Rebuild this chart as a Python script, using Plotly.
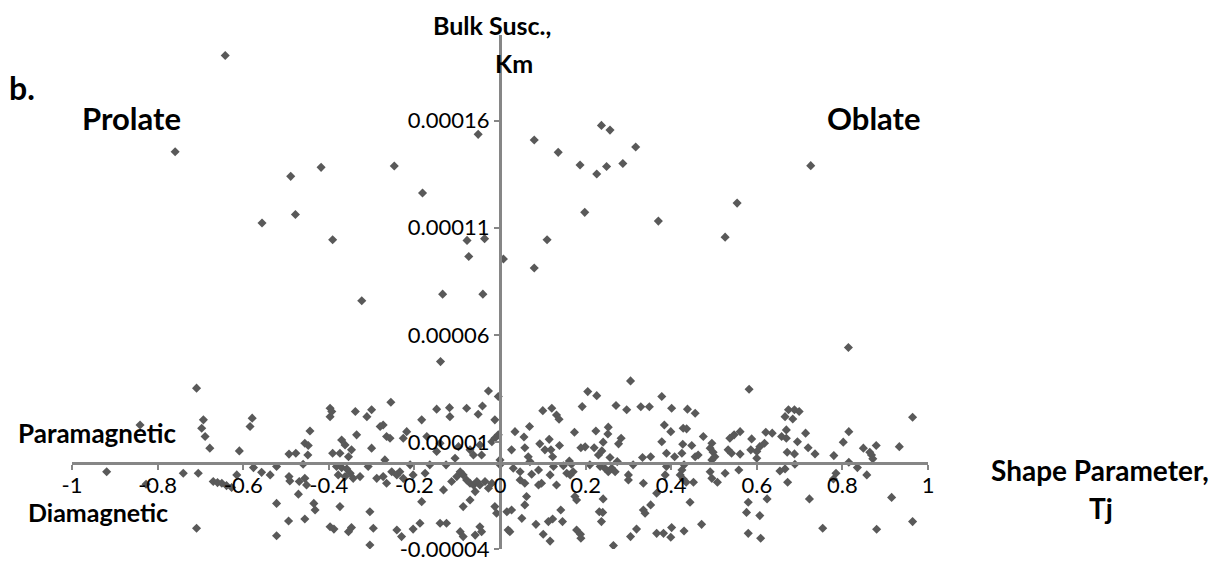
import plotly.graph_objects as go

# Shape parameter Tj (x) and bulk susceptibility Km (y)
tj = [
    -0.642, -0.759, -0.489, -0.418, -0.247, -0.181, -0.051, -0.556, -0.478, -0.391,
    -0.077, -0.036, -0.073, 0.008, 0.080, 0.136, 0.237, 0.257, 0.187, 0.226,
    0.249, 0.198, 0.110, 0.080, -0.134, -0.040, 0.317, 0.287, 0.370, 0.554,
    0.526, 0.726, -0.323, -0.139, 0.814,
    # band, left
    -0.709, -0.841, -0.693, -0.697, -0.689, -0.678, -0.919, -0.827, -0.740, -0.705, -0.709,
    -0.579, -0.584, -0.609, -0.670, -0.650, -0.639, -0.627, -0.615, -0.576, -0.557,
    -0.537, -0.522, -0.522, -0.522, -0.493, -0.477, -0.493, -0.491, -0.494, -0.471,
    -0.469, -0.460, -0.456, -0.448, -0.444, -0.449, -0.456, -0.452, -0.435, -0.432,
    -0.456, -0.397, -0.397, -0.393, -0.338, -0.391, -0.370, -0.362, -0.374, -0.354,
    -0.347, -0.335, -0.382, -0.370, -0.358, -0.378, -0.362, -0.350, -0.343, -0.374,
    -0.397, -0.388, -0.354, -0.347, -0.660,
    # band, centre-left
    -0.027, -0.004, -0.255, -0.300, -0.311, -0.148, -0.118, -0.078, -0.041, -0.117,
    -0.051, -0.012, -0.183, -0.273, -0.280, -0.265, -0.257, -0.226, -0.171, -0.300,
    -0.218, -0.140, -0.148, -0.097, -0.070, -0.047, -0.043, -0.062, -0.019, -0.012,
    -0.004, 0.000, 0.000, -0.269, -0.210, -0.164, -0.126, -0.105, -0.327, -0.288,
    -0.273, -0.265, -0.253, -0.241, -0.234, -0.226, -0.203, -0.175, -0.132, -0.113,
    -0.101, -0.093, -0.086, -0.078, -0.070, -0.062, -0.054, -0.047, -0.035, -0.027,
    -0.019, -0.058, -0.070, -0.086, -0.183, -0.304, -0.296, -0.304, -0.241, -0.230,
    -0.203, -0.187, -0.140, -0.125, -0.093, -0.086, -0.047, -0.043, -0.012, -0.008,
    0.016, 0.019, -0.058, -0.308,
    # band, centre-right
    0.305, 0.205, 0.226, 0.192, 0.100, 0.121, 0.132, 0.138, 0.271, 0.296,
    0.329, 0.349, 0.035, 0.069, 0.056, 0.115, 0.174, 0.224, 0.253, 0.252,
    0.283, 0.277, 0.241, 0.093, 0.139, 0.189, 0.199, 0.220, 0.027, 0.058,
    0.105, 0.119, 0.066, 0.070, 0.123, 0.230, 0.238, 0.257, 0.274, 0.333,
    0.352, 0.162, 0.031, 0.047, 0.074, 0.090, 0.125, 0.148, 0.167, 0.156,
    0.164, 0.171, 0.117, 0.210, 0.234, 0.245, 0.253, 0.261, 0.269, 0.311,
    0.300, 0.300, 0.335, 0.366, 0.047, 0.058, 0.090, 0.097, 0.132, 0.175,
    0.179, 0.241, 0.062, 0.058, 0.142, 0.051, 0.084, 0.113, 0.123, 0.146,
    0.101, 0.117, 0.179, 0.188, 0.189, 0.232, 0.240, 0.237, 0.265, 0.305,
    0.319, 0.335, 0.339, 0.352, 0.366, 0.027, 0.023,
    # band, right
    0.582, 0.378, 0.401, 0.438, 0.456, 0.384, 0.399, 0.428, 0.436, 0.475,
    0.378, 0.389, 0.408, 0.425, 0.427, 0.448, 0.456, 0.463, 0.495, 0.491,
    0.498, 0.502, 0.495, 0.537, 0.547, 0.561, 0.533, 0.541, 0.561, 0.588,
    0.586, 0.600, 0.607, 0.618, 0.600, 0.621, 0.636, 0.674, 0.688, 0.699,
    0.666, 0.684, 0.669, 0.658, 0.669, 0.695, 0.714, 0.720, 0.671, 0.688,
    0.689, 0.666, 0.654, 0.430, 0.425, 0.421, 0.428, 0.435, 0.452, 0.389,
    0.386, 0.491, 0.495, 0.508, 0.526, 0.558, 0.672, 0.444, 0.471, 0.401,
    0.382, 0.399, 0.430, 0.580, 0.576, 0.607, 0.624, 0.580, 0.609, 0.723,
    # band, far right
    0.964, 0.815, 0.802, 0.849, 0.879, 0.864, 0.868, 0.871, 0.933, 0.736,
    0.780, 0.815, 0.835, 0.857, 0.785, 0.779, 0.915, 0.754, 0.880, 0.964,
]

km = [
    19.04e-5, 14.55e-5, 13.40e-5, 13.82e-5, 13.88e-5, 12.62e-5, 15.36e-5, 11.22e-5, 11.62e-5, 10.44e-5,
    10.41e-5, 10.49e-5, 9.66e-5, 9.54e-5, 15.10e-5, 14.52e-5, 15.78e-5, 15.56e-5, 13.93e-5, 13.51e-5,
    13.86e-5, 11.72e-5, 10.44e-5, 9.12e-5, 7.90e-5, 7.90e-5, 14.77e-5, 14.00e-5, 11.31e-5, 12.15e-5,
    10.56e-5, 13.90e-5, 7.59e-5, 4.75e-5, 5.41e-5,
    # band, left
    3.51e-5, 1.79e-5, 2.03e-5, 1.64e-5, 1.25e-5, 0.71e-5, -0.39e-5, -0.98e-5, -0.46e-5, -0.46e-5, -3.03e-5,
    2.11e-5, 1.72e-5, 0.58e-5, -0.85e-5, -0.93e-5, -1.04e-5, -1.13e-5, -0.54e-5, -0.20e-5, -0.42e-5,
    -0.54e-5, -0.15e-5, -1.87e-5, -3.38e-5, 0.43e-5, 0.47e-5, -0.62e-5, -0.82e-5, -2.69e-5, -1.44e-5,
    -0.85e-5, -0.04e-5, 0.94e-5, 0.83e-5, 1.51e-5, 0.39e-5, -0.70e-5, -1.01e-5, -1.87e-5, -2.18e-5,
    -2.60e-5, 2.57e-5, 2.18e-5, 2.42e-5, 2.42e-5, 0.47e-5, 1.09e-5, 0.86e-5, 0.47e-5, 0.31e-5,
    0.63e-5, 1.33e-5, -0.15e-5, -0.20e-5, -0.26e-5, -0.54e-5, -0.62e-5, -0.46e-5, -0.70e-5, -2.02e-5,
    -2.96e-5, -3.07e-5, -3.19e-5, -3.00e-5, -0.90e-5,
    # band, centre-left
    3.38e-5, 3.12e-5, 2.85e-5, 2.50e-5, 2.18e-5, 2.53e-5, 2.60e-5, 2.57e-5, 2.68e-5, 2.18e-5,
    2.29e-5, 2.03e-5, 2.03e-5, 1.79e-5, 1.72e-5, 1.25e-5, 1.17e-5, 1.17e-5, 1.25e-5, 0.71e-5,
    1.48e-5, 0.94e-5, 0.55e-5, 0.78e-5, 0.63e-5, 0.86e-5, 0.39e-5, 0.39e-5, 1.01e-5, 1.17e-5,
    1.33e-5, 0.16e-5, -0.07e-5, 0.16e-5, -0.07e-5, -0.07e-5, -0.07e-5, 0.24e-5, -0.62e-5, -0.70e-5,
    -0.62e-5, -0.93e-5, -0.39e-5, -0.54e-5, -0.39e-5, -0.70e-5, -0.54e-5, -0.46e-5, -1.24e-5, -0.85e-5,
    -0.62e-5, -0.39e-5, -0.54e-5, -0.78e-5, -0.93e-5, -1.01e-5, -0.85e-5, -1.01e-5, -0.85e-5, -1.16e-5,
    -0.93e-5, -1.32e-5, -1.71e-5, -2.02e-5, -1.79e-5, -2.26e-5, -3.03e-5, -3.81e-5, -3.11e-5, -3.42e-5,
    -3.07e-5, -2.80e-5, -2.80e-5, -2.80e-5, -3.19e-5, -3.42e-5, -2.96e-5, -3.19e-5, -2.02e-5, -2.33e-5,
    -2.26e-5, -3.11e-5, -3.35e-5, -0.15e-5,
    # band, centre-right
    3.85e-5, 3.35e-5, 3.16e-5, 2.65e-5, 2.46e-5, 2.57e-5, 2.26e-5, 2.06e-5, 2.70e-5, 2.50e-5,
    2.64e-5, 2.64e-5, 1.48e-5, 1.72e-5, 1.23e-5, 1.12e-5, 1.45e-5, 1.51e-5, 1.69e-5, 1.37e-5,
    1.17e-5, 0.91e-5, 0.99e-5, 0.91e-5, 0.83e-5, 0.73e-5, 0.77e-5, 0.73e-5, 0.63e-5, 0.73e-5,
    0.63e-5, 0.63e-5, 0.31e-5, 0.08e-5, 0.31e-5, 0.39e-5, 0.58e-5, 0.27e-5, 0.08e-5, 0.27e-5,
    0.31e-5, 0.11e-5, -0.23e-5, -0.39e-5, -0.51e-5, -0.31e-5, -0.15e-5, -0.11e-5, -0.04e-5, -0.46e-5,
    -0.54e-5, -0.39e-5, -0.54e-5, -0.07e-5, -0.15e-5, -0.23e-5, -0.39e-5, -0.23e-5, -0.39e-5, -0.07e-5,
    -0.54e-5, -0.78e-5, -0.93e-5, -1.40e-5, -0.78e-5, -0.93e-5, -1.01e-5, -0.93e-5, -1.01e-5, -1.55e-5,
    -1.71e-5, -1.66e-5, -1.55e-5, -1.94e-5, -2.18e-5, -2.57e-5, -2.85e-5, -2.72e-5, -2.60e-5, -2.72e-5,
    -3.31e-5, -3.63e-5, -3.11e-5, -3.31e-5, -3.50e-5, -2.26e-5, -2.29e-5, -2.72e-5, -3.84e-5, -3.42e-5,
    -3.07e-5, -2.18e-5, -2.33e-5, -1.94e-5, -3.27e-5, -2.18e-5, -3.19e-5,
    # band, right
    3.46e-5, 3.12e-5, 2.57e-5, 2.53e-5, 2.34e-5, 1.79e-5, 1.48e-5, 1.64e-5, 1.61e-5, 1.25e-5,
    1.01e-5, 0.47e-5, 0.31e-5, 0.47e-5, 0.89e-5, 0.83e-5, 0.31e-5, 0.39e-5, 0.94e-5, 0.71e-5,
    0.52e-5, 0.31e-5, 0.16e-5, 1.17e-5, 1.33e-5, 1.48e-5, 0.63e-5, 0.47e-5, 0.43e-5, 1.14e-5,
    0.63e-5, 0.55e-5, 0.78e-5, 0.94e-5, 0.24e-5, 1.45e-5, 1.41e-5, 2.50e-5, 2.50e-5, 2.42e-5,
    2.18e-5, 2.07e-5, 1.56e-5, 1.25e-5, 1.17e-5, 1.01e-5, 1.41e-5, 0.73e-5, 0.52e-5, 0.44e-5,
    -0.04e-5, -0.26e-5, -0.36e-5, -0.07e-5, -0.31e-5, -0.54e-5, -0.73e-5, -0.88e-5, -0.88e-5, -0.15e-5,
    -0.54e-5, -0.39e-5, -0.70e-5, -0.88e-5, -0.46e-5, -0.31e-5, -0.88e-5, -1.82e-5, -2.85e-5, -3.00e-5,
    -3.27e-5, -3.45e-5, -3.16e-5, -1.82e-5, -2.29e-5, -2.44e-5, -1.66e-5, -3.27e-5, -3.50e-5, -1.66e-5,
    # band, far right
    2.15e-5, 1.48e-5, 0.99e-5, 0.71e-5, 0.83e-5, 0.52e-5, 0.39e-5, 0.21e-5, 0.78e-5, 0.44e-5,
    0.36e-5, 0.05e-5, -0.20e-5, -0.54e-5, -0.46e-5, -0.73e-5, -1.59e-5, -3.03e-5, -3.08e-5, -2.72e-5,
]

x_tickvals = [-1, -0.8, -0.6, -0.4, -0.2, 0, 0.2, 0.4, 0.6, 0.8, 1]
x_ticktext = ["-1", "-0.8", "-0.6", "-0.4", "-0.2", "0", "0.2", "0.4", "0.6", "0.8", "1"]
y_tickvals = [-0.00004, 0.00001, 0.00006, 0.00011, 0.00016]
y_ticktext = ["-0.00004", "0.00001", "0.00006", "0.00011", "0.00016"]

x_range = [-1, 1]
y_range = [-0.00004, 0.0002]

FONT = "Lato"
AXIS = "#868686"

fig = go.Figure()
fig.add_trace(go.Scatter(
    x=tj, y=km, mode="markers",
    marker=dict(symbol="diamond", size=7, color="#595959", line=dict(width=0)),
    showlegend=False, hoverinfo="x+y",
))

fig.update_layout(
    width=1230, height=563,
    margin=dict(l=72, r=302, t=35, b=14, autoexpand=False),
    paper_bgcolor="white", plot_bgcolor="white",
    font=dict(family=FONT, size=22, color="black"),
    xaxis=dict(
        range=x_range, tickvals=x_tickvals, ticktext=x_ticktext,
        showgrid=False, zeroline=False, automargin=False,
        showline=True, linecolor=AXIS, linewidth=3,
        ticks="outside", ticklen=5, tickwidth=2, tickcolor=AXIS,
        ticklabelstandoff=-4,
        anchor="free", position=(0 - y_range[0]) / (y_range[1] - y_range[0]),
        tickfont=dict(family=FONT, size=22, color="black"),
    ),
    yaxis=dict(
        range=y_range, tickvals=y_tickvals, ticktext=y_ticktext,
        showgrid=False, zeroline=False, automargin=False,
        showline=True, linecolor=AXIS, linewidth=3,
        ticks="outside", ticklen=5, tickwidth=2, tickcolor=AXIS,
        anchor="free", position=(0 - x_range[0]) / (x_range[1] - x_range[0]),
        tickfont=dict(family=FONT, size=22, color="black"),
    ),
)

def px_to_paper(px, py):
    return (px - 72) / 856, (549 - py) / 514

labels = [
    ("b.", 7, 88, 32, "left"),
    ("Bulk Susc.,", 492, 25, 25, "center"),
    ("Km", 514, 63, 25, "center"),
    ("Prolate", 131, 118, 31, "center"),
    ("Oblate", 874, 118, 31, "center"),
    ("Paramagnetic", 97, 433, 26, "center"),
    ("Diamagnetic", 98, 512, 25, "center"),
    ("Shape Parameter,", 1100, 470, 28, "center"),
    ("Tj", 1101, 508, 28, "center"),
]
for text, px, py, size, anchor in labels:
    ax, ay = px_to_paper(px, py)
    fig.add_annotation(
        x=ax, y=ay, xref="paper", yref="paper", text="<b>%s</b>" % text,
        showarrow=False, xanchor=anchor, yanchor="middle",
        font=dict(family=FONT, size=size, color="black"),
    )

fig.write_html("out.html")
